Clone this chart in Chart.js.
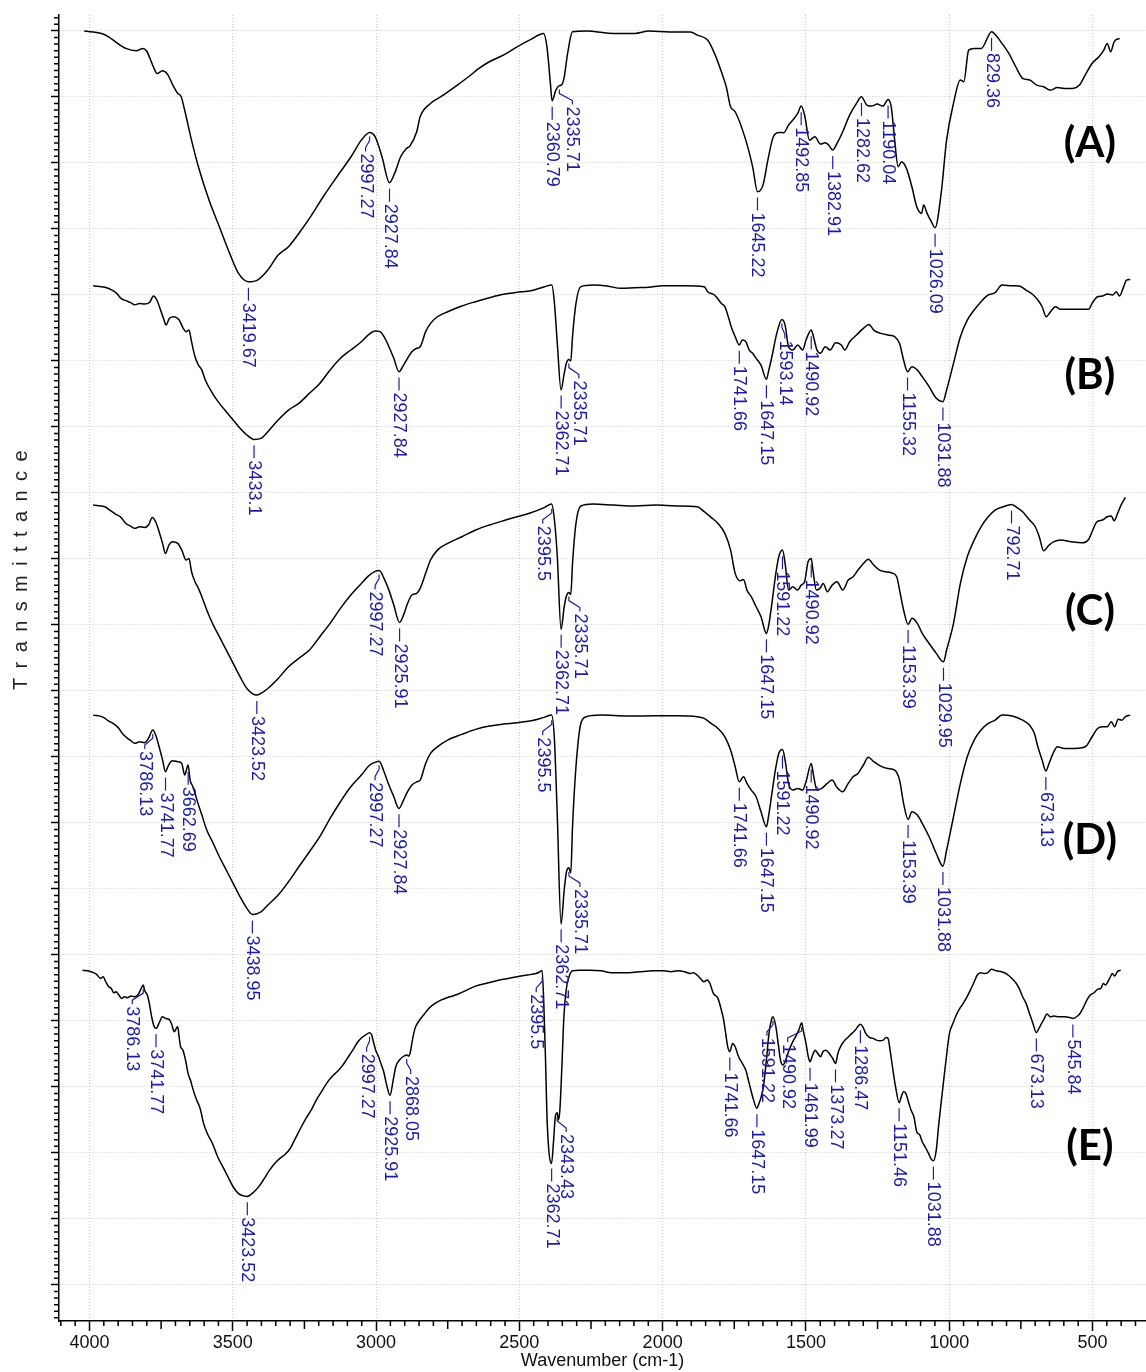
<!DOCTYPE html>
<html>
<head>
<meta charset="utf-8">
<title>FTIR spectra A-E</title>
<script src="https://cdn.jsdelivr.net/npm/chart.js@4.4.0/dist/chart.umd.min.js"></script>
<style>
  html, body { margin: 0; padding: 0; background: #fff; }
  #wrap { width: 1146px; height: 1372px; }
</style>
</head>
<body>
<div id="wrap"><canvas id="chart-ftir" width="1146" height="1372"></canvas></div>
<script>
// traces are stacked: [wavenumber cm-1, transmittance in offset units]
const spectrumA = [
  [3992, 94.98], [3932, 94.80], [3907, 94.55], [3883, 94.17], [3847, 93.67], [3811, 93.49], [3787, 93.67], [3775, 93.49],
  [3751, 92.28], [3738, 91.77], [3719, 91.98], [3702, 91.72], [3683, 90.89], [3666, 90.26], [3654, 90.01], [3642, 89.00],
  [3618, 86.72], [3594, 84.70], [3557, 82.18], [3521, 80.16], [3485, 78.14], [3454, 76.62], [3420, 75.99], [3388, 76.12],
  [3352, 76.88], [3316, 78.01], [3280, 78.64], [3244, 79.65], [3207, 80.79], [3159, 82.43], [3111, 83.95], [3062, 85.46],
  [3026, 86.72], [2997, 87.30], [2978, 86.98], [2954, 85.46], [2928, 83.49], [2910, 84.20], [2889, 85.46], [2869, 86.09],
  [2857, 86.27], [2833, 87.36], [2821, 88.49], [2785, 89.50], [2749, 90.01], [2700, 90.76], [2652, 91.52], [2616, 92.15],
  [2580, 92.66], [2531, 93.16], [2483, 93.79], [2435, 94.35], [2391, 94.80], [2379, 93.79], [2367, 91.02], [2361, 89.70],
  [2348, 90.51], [2336, 90.85], [2328, 90.90], [2319, 91.47], [2307, 93.29], [2290, 94.93], [2242, 94.98], [2145, 94.80],
  [2073, 94.80], [2024, 94.98], [1952, 94.91], [1879, 94.91], [1855, 94.68], [1819, 94.30], [1795, 93.29], [1771, 91.90],
  [1754, 90.76], [1739, 89.25], [1723, 88.87], [1686, 86.72], [1662, 84.70], [1645, 82.81], [1626, 83.31], [1609, 85.21],
  [1590, 86.98], [1570, 87.30], [1554, 87.28], [1537, 87.86], [1522, 88.24], [1505, 88.74], [1493, 89.30], [1481, 88.62],
  [1464, 86.72], [1445, 86.98], [1426, 86.42], [1409, 86.52], [1397, 86.35], [1383, 85.97], [1368, 86.47], [1348, 87.36],
  [1324, 88.62], [1300, 89.50], [1283, 90.01], [1264, 89.38], [1247, 89.30], [1228, 89.45], [1208, 89.30], [1190, 89.80],
  [1179, 89.25], [1167, 86.72], [1155, 84.70], [1143, 85.08], [1126, 84.58], [1107, 83.19], [1090, 81.67], [1073, 81.17],
  [1066, 81.80], [1054, 81.17], [1039, 80.54], [1026, 80.08], [1005, 82.68], [986, 86.72], [962, 89.50], [938, 91.27],
  [926, 91.14], [909, 93.54], [890, 93.67], [865, 93.67], [829, 94.93], [812, 94.60], [793, 94.05], [769, 93.29],
  [745, 92.28], [721, 91.40], [696, 91.27], [672, 90.89], [648, 90.76], [624, 90.51], [600, 90.71], [576, 90.64],
  [547, 90.64], [523, 90.89], [503, 91.65], [479, 92.53], [455, 93.04], [438, 93.54], [426, 94.05], [414, 93.42],
  [402, 94.17], [383, 94.43]
];

const spectrumB = [
  [3994, 75.69], [3953, 75.57], [3928, 75.36], [3912, 75.11], [3897, 74.73], [3880, 74.56], [3863, 74.41], [3849, 74.25],
  [3832, 74.35], [3815, 74.30], [3796, 74.46], [3784, 74.91], [3772, 74.61], [3759, 73.85], [3747, 73.09], [3740, 72.71],
  [3728, 73.22], [3711, 73.34], [3694, 73.09], [3680, 72.46], [3670, 72.21], [3660, 72.33], [3651, 71.45], [3639, 70.31],
  [3627, 69.68], [3615, 69.30], [3603, 68.55], [3578, 67.54], [3554, 66.78], [3530, 66.15], [3506, 65.52], [3482, 64.89],
  [3458, 64.38], [3433, 64.05], [3409, 64.13], [3385, 64.63], [3349, 65.52], [3313, 66.27], [3277, 66.78], [3240, 67.54],
  [3204, 68.29], [3168, 69.30], [3132, 70.19], [3096, 70.82], [3059, 71.45], [3035, 71.96], [3011, 72.26], [2994, 72.21],
  [2980, 71.83], [2963, 71.07], [2946, 70.19], [2928, 69.18], [2912, 69.68], [2898, 70.19], [2883, 70.69], [2866, 70.95],
  [2854, 71.07], [2835, 72.21], [2818, 72.84], [2794, 73.34], [2758, 73.72], [2709, 74.15], [2661, 74.48], [2613, 74.78],
  [2564, 75.04], [2516, 75.19], [2468, 75.31], [2420, 75.62], [2395, 75.74], [2386, 74.35], [2376, 71.32], [2363, 67.79],
  [2352, 69.05], [2344, 69.85], [2336, 70.10], [2329, 70.00], [2323, 71.83], [2311, 74.35], [2294, 75.62], [2251, 75.74],
  [2202, 75.67], [2154, 75.49], [2106, 75.54], [2057, 75.57], [2009, 75.69], [1937, 75.69], [1864, 75.62], [1852, 75.24],
  [1828, 74.99], [1804, 74.35], [1792, 74.10], [1780, 73.34], [1768, 72.46], [1756, 71.83], [1742, 71.20], [1731, 71.58],
  [1719, 71.45], [1707, 70.82], [1695, 70.57], [1683, 70.19], [1666, 69.68], [1647, 68.60], [1640, 69.18], [1628, 70.31],
  [1611, 72.08], [1593, 73.14], [1582, 72.71], [1570, 71.07], [1555, 70.82], [1538, 71.20], [1521, 70.82], [1509, 71.58],
  [1491, 72.33], [1483, 71.83], [1471, 70.82], [1459, 70.57], [1442, 71.07], [1425, 70.82], [1406, 71.37], [1386, 71.20],
  [1374, 70.82], [1357, 71.45], [1333, 71.96], [1309, 72.46], [1290, 72.76], [1273, 72.33], [1249, 72.08], [1224, 71.96],
  [1200, 71.83], [1183, 71.32], [1169, 70.06], [1155, 69.18], [1140, 69.56], [1121, 69.30], [1104, 68.80], [1080, 68.04],
  [1055, 67.16], [1032, 66.91], [1019, 67.79], [995, 69.81], [971, 71.83], [947, 73.09], [923, 73.85], [899, 74.48],
  [874, 74.99], [850, 75.16], [826, 75.74], [790, 75.69], [766, 75.67], [742, 75.36], [717, 74.99], [701, 74.61],
  [686, 74.10], [672, 73.34], [657, 73.72], [640, 74.10], [621, 73.90], [585, 73.90], [548, 73.90], [524, 73.90],
  [512, 74.35], [493, 74.86], [476, 74.91], [459, 75.06], [440, 74.99], [428, 75.24], [416, 74.91], [404, 75.49],
  [392, 76.12], [379, 76.17]
];

const spectrumC = [
  [3994, 59.07], [3953, 58.95], [3936, 58.69], [3916, 58.39], [3897, 58.14], [3880, 57.68], [3863, 57.48], [3849, 57.31],
  [3832, 57.43], [3815, 57.38], [3801, 57.56], [3788, 58.14], [3776, 57.81], [3764, 57.05], [3752, 56.17], [3742, 55.41],
  [3730, 56.04], [3718, 56.30], [3699, 56.17], [3685, 55.66], [3670, 54.91], [3660, 55.03], [3651, 54.02], [3639, 53.27],
  [3627, 52.76], [3615, 52.13], [3598, 51.12], [3578, 50.11], [3554, 49.10], [3530, 48.09], [3506, 47.08], [3482, 46.07],
  [3458, 45.18], [3424, 44.68], [3409, 44.81], [3385, 45.18], [3349, 45.94], [3313, 46.83], [3277, 47.46], [3240, 48.09],
  [3204, 49.10], [3168, 50.11], [3132, 51.25], [3096, 52.26], [3059, 53.14], [3035, 53.69], [3011, 54.05], [2997, 54.12],
  [2980, 53.52], [2963, 52.63], [2946, 51.50], [2926, 50.18], [2912, 50.74], [2898, 51.62], [2883, 52.26], [2866, 52.38],
  [2854, 52.76], [2835, 53.90], [2818, 54.91], [2794, 55.66], [2758, 56.17], [2709, 56.67], [2661, 57.18], [2613, 57.56],
  [2564, 57.89], [2516, 58.19], [2468, 58.49], [2420, 58.90], [2396, 59.15], [2386, 57.94], [2376, 55.16], [2363, 49.65],
  [2352, 51.37], [2344, 52.20], [2336, 52.45], [2329, 52.30], [2323, 54.65], [2311, 57.68], [2294, 59.00], [2251, 59.15],
  [2178, 59.07], [2106, 59.00], [2033, 59.07], [1961, 59.00], [1888, 58.95], [1864, 58.57], [1840, 58.14], [1816, 57.68],
  [1792, 56.93], [1772, 55.66], [1756, 53.90], [1739, 53.34], [1727, 53.44], [1715, 52.63], [1700, 52.13], [1683, 51.37],
  [1666, 50.61], [1647, 49.35], [1640, 49.86], [1628, 51.62], [1616, 53.64], [1604, 55.16], [1591, 55.66], [1582, 54.65],
  [1570, 52.63], [1555, 52.89], [1538, 52.63], [1526, 53.01], [1514, 53.27], [1502, 54.78], [1491, 55.03], [1485, 54.15],
  [1473, 52.63], [1461, 52.76], [1449, 53.14], [1435, 52.51], [1418, 53.01], [1401, 53.27], [1381, 52.63], [1362, 53.39],
  [1345, 53.64], [1328, 54.15], [1309, 54.65], [1292, 54.96], [1273, 54.53], [1253, 54.15], [1232, 54.02], [1212, 53.95],
  [1193, 53.64], [1183, 52.63], [1169, 51.12], [1153, 50.03], [1140, 50.49], [1121, 50.11], [1104, 49.35], [1080, 48.59],
  [1055, 47.84], [1030, 47.20], [1019, 48.09], [995, 50.11], [971, 53.14], [947, 55.16], [923, 56.42], [899, 57.43],
  [874, 58.19], [850, 58.69], [821, 58.95], [793, 59.12], [778, 58.95], [754, 58.57], [730, 57.94], [710, 57.43],
  [696, 56.67], [681, 55.61], [662, 56.04], [645, 56.30], [621, 56.42], [585, 56.30], [548, 56.22], [524, 56.47],
  [512, 57.05], [495, 57.81], [476, 57.94], [459, 58.19], [445, 58.24], [435, 57.89], [423, 58.44], [411, 59.07],
  [396, 59.65]
];

const spectrumD = [
  [3994, 43.16], [3960, 43.01], [3941, 42.73], [3921, 42.48], [3904, 42.15], [3892, 41.77], [3878, 41.47], [3863, 41.22],
  [3849, 41.02], [3832, 41.14], [3815, 41.07], [3801, 41.40], [3786, 42.03], [3776, 41.65], [3764, 40.76], [3752, 39.75],
  [3742, 38.87], [3731, 39.38], [3718, 39.70], [3699, 39.63], [3685, 39.50], [3675, 38.62], [3663, 39.38], [3656, 38.24],
  [3646, 37.73], [3632, 36.72], [3615, 35.59], [3598, 34.45], [3578, 33.57], [3554, 32.43], [3530, 31.42], [3506, 30.41],
  [3482, 29.40], [3458, 28.52], [3439, 28.06], [3409, 28.26], [3385, 28.77], [3349, 29.53], [3313, 30.54], [3277, 31.67],
  [3240, 32.81], [3204, 33.95], [3168, 35.34], [3132, 36.60], [3096, 37.73], [3059, 38.62], [3030, 39.38], [3006, 39.63],
  [2997, 39.66], [2980, 38.87], [2963, 37.86], [2946, 36.98], [2928, 36.09], [2912, 36.72], [2898, 37.36], [2883, 37.86],
  [2866, 38.11], [2854, 38.24], [2835, 39.50], [2818, 40.26], [2794, 40.76], [2758, 41.27], [2709, 41.70], [2661, 42.08],
  [2613, 42.33], [2564, 42.48], [2516, 42.58], [2468, 42.73], [2420, 43.01], [2396, 43.16], [2386, 41.27], [2376, 35.46],
  [2363, 27.33], [2352, 29.91], [2344, 31.30], [2336, 31.60], [2329, 31.20], [2323, 34.70], [2311, 39.25], [2294, 42.53],
  [2275, 43.04], [2226, 43.16], [2130, 43.09], [2033, 43.11], [1961, 43.11], [1888, 43.04], [1864, 42.91], [1840, 42.53],
  [1816, 42.15], [1792, 41.52], [1772, 40.51], [1756, 39.25], [1742, 38.11], [1727, 38.49], [1715, 37.99], [1700, 37.48],
  [1683, 36.98], [1666, 35.84], [1647, 34.70], [1640, 35.46], [1628, 37.23], [1616, 38.99], [1604, 40.26], [1591, 40.56],
  [1582, 39.75], [1570, 37.99], [1555, 37.48], [1538, 37.61], [1521, 37.48], [1509, 38.11], [1491, 39.50], [1483, 38.62],
  [1471, 37.48], [1454, 37.61], [1435, 37.99], [1418, 38.24], [1401, 37.68], [1381, 37.36], [1362, 37.99], [1345, 38.49],
  [1328, 38.74], [1309, 39.38], [1292, 39.96], [1273, 39.63], [1249, 39.30], [1224, 39.12], [1200, 38.99], [1183, 38.24],
  [1169, 36.47], [1153, 35.26], [1140, 35.84], [1121, 35.59], [1104, 34.96], [1080, 33.95], [1055, 32.68], [1032, 31.72],
  [1019, 32.94], [995, 35.46], [971, 37.99], [947, 40.01], [923, 41.27], [899, 42.03], [874, 42.53], [850, 42.78],
  [826, 43.16], [790, 43.09], [754, 42.78], [730, 42.41], [713, 41.77], [701, 40.76], [686, 39.75], [673, 38.92],
  [662, 39.50], [645, 40.39], [633, 40.76], [609, 40.64], [573, 40.64], [536, 40.76], [512, 41.52], [493, 42.15],
  [476, 42.28], [459, 42.28], [445, 42.66], [433, 42.28], [421, 42.84], [408, 42.78], [396, 43.04], [379, 43.16]
];

const spectrumE = [
  [3998, 23.84], [3968, 23.72], [3950, 23.54], [3934, 23.21], [3926, 23.34], [3917, 22.96], [3907, 22.58], [3898, 22.46],
  [3889, 22.13], [3881, 22.20], [3871, 21.95], [3862, 21.70], [3852, 21.82], [3841, 21.75], [3829, 21.88], [3817, 21.82],
  [3805, 21.95], [3796, 22.33], [3786, 22.71], [3782, 22.33], [3772, 21.95], [3765, 21.32], [3757, 20.31], [3748, 19.55],
  [3742, 19.43], [3729, 19.93], [3720, 20.31], [3708, 20.18], [3696, 20.11], [3688, 19.80], [3678, 19.17], [3671, 19.43],
  [3666, 19.55], [3662, 18.92], [3656, 18.04], [3648, 17.78], [3639, 17.03], [3630, 16.02], [3620, 15.39], [3612, 14.75],
  [3600, 14.00], [3588, 13.37], [3576, 12.23], [3563, 11.47], [3545, 10.71], [3527, 9.70], [3509, 8.95], [3491, 8.19],
  [3473, 7.43], [3455, 6.93], [3437, 6.74], [3424, 6.70], [3400, 7.05], [3382, 7.48], [3364, 8.06], [3346, 8.69],
  [3328, 9.20], [3310, 9.58], [3292, 9.88], [3274, 10.33], [3256, 11.09], [3238, 11.85], [3219, 12.61], [3201, 13.24],
  [3183, 14.00], [3165, 14.63], [3147, 15.26], [3129, 15.76], [3111, 16.14], [3093, 16.57], [3075, 17.15], [3056, 17.78],
  [3038, 18.42], [3024, 18.74], [3012, 18.92], [2997, 19.10], [2990, 18.92], [2984, 18.42], [2976, 17.78], [2966, 17.28],
  [2956, 16.65], [2948, 16.14], [2939, 15.26], [2926, 14.36], [2915, 15.51], [2906, 16.52], [2893, 17.03], [2881, 17.28],
  [2868, 17.41], [2860, 17.33], [2855, 17.66], [2848, 18.54], [2839, 19.43], [2827, 19.93], [2809, 20.44], [2791, 20.94],
  [2773, 21.27], [2749, 21.57], [2718, 21.82], [2688, 22.03], [2658, 22.33], [2628, 22.63], [2592, 22.83], [2555, 23.04],
  [2519, 23.19], [2483, 23.34], [2447, 23.47], [2417, 23.59], [2405, 23.70], [2396, 23.82], [2390, 21.32], [2384, 17.03],
  [2378, 12.23], [2363, 9.20], [2356, 10.90], [2350, 12.73], [2343, 13.04], [2339, 12.48], [2334, 13.24], [2327, 16.52],
  [2320, 20.31], [2312, 22.33], [2302, 23.34], [2290, 23.79], [2266, 23.84], [2230, 23.84], [2190, 23.79], [2154, 23.64],
  [2105, 23.64], [2057, 23.72], [2008, 23.79], [1972, 23.79], [1947, 23.72], [1923, 23.79], [1899, 23.72], [1881, 23.59],
  [1868, 23.64], [1856, 23.47], [1844, 23.21], [1832, 22.96], [1820, 23.09], [1811, 22.83], [1799, 22.08], [1783, 21.70],
  [1771, 20.81], [1763, 20.06], [1756, 19.05], [1749, 18.04], [1742, 17.66], [1732, 18.29], [1723, 18.04], [1711, 17.28],
  [1698, 16.77], [1686, 16.27], [1674, 15.26], [1662, 14.25], [1647, 13.37], [1640, 13.74], [1632, 14.25], [1623, 15.26],
  [1613, 17.28], [1605, 19.05], [1595, 20.18], [1591, 20.31], [1581, 19.55], [1573, 18.29], [1565, 17.03], [1556, 16.65],
  [1547, 17.03], [1535, 17.78], [1525, 18.29], [1513, 18.79], [1501, 19.30], [1491, 19.85], [1486, 19.30], [1476, 18.29],
  [1468, 17.28], [1462, 16.90], [1453, 17.41], [1444, 17.78], [1435, 17.53], [1425, 17.28], [1417, 17.66], [1407, 17.78],
  [1395, 17.53], [1383, 17.15], [1373, 16.77], [1365, 17.53], [1353, 18.16], [1340, 18.54], [1328, 18.79], [1316, 19.05],
  [1304, 19.30], [1294, 19.60], [1286, 19.75], [1277, 19.50], [1268, 19.05], [1255, 18.74], [1243, 18.67], [1231, 18.54],
  [1219, 18.49], [1207, 18.54], [1197, 18.74], [1190, 18.67], [1183, 17.78], [1173, 16.27], [1164, 15.01], [1151, 13.79],
  [1144, 14.25], [1136, 14.63], [1128, 14.50], [1119, 13.87], [1110, 13.24], [1100, 12.73], [1090, 11.60], [1079, 11.34],
  [1071, 10.84], [1061, 10.46], [1049, 9.96], [1039, 9.50], [1032, 9.40], [1022, 10.21], [1013, 12.23], [1000, 14.75],
  [988, 17.03], [976, 19.05], [964, 19.80], [952, 20.44], [940, 20.94], [928, 21.32], [915, 21.82], [903, 22.33],
  [891, 22.89], [879, 23.47], [867, 23.64], [855, 23.59], [843, 23.64], [830, 23.90], [812, 23.79], [794, 23.72],
  [776, 23.54], [758, 23.21], [743, 22.83], [733, 22.46], [721, 21.82], [709, 21.32], [697, 20.56], [685, 19.80],
  [673, 19.10], [667, 19.30], [658, 19.68], [648, 20.06], [636, 20.51], [624, 20.31], [612, 20.36], [594, 20.31],
  [576, 20.31], [557, 20.26], [546, 20.18], [533, 20.31], [521, 20.56], [509, 21.02], [497, 21.57], [485, 21.95],
  [472, 22.13], [460, 22.38], [448, 22.46], [440, 22.83], [432, 22.71], [424, 22.96], [415, 23.34], [408, 23.59],
  [400, 23.39], [391, 23.72], [379, 23.84]
];

// marked band positions (cm-1) per trace
const peaksA = [3419.67, 2997.27, 2927.84, 2360.79, 2335.71, 1645.22, 1492.85, 1382.91, 1282.62, 1190.04, 1026.09, 829.36];
const peaksB = [3433.1, 2927.84, 2362.71, 2335.71, 1741.66, 1647.15, 1593.14, 1490.92, 1155.32, 1031.88];
const peaksC = [3423.52, 2997.27, 2925.91, 2395.5, 2362.71, 2335.71, 1647.15, 1591.22, 1490.92, 1153.39, 1029.95, 792.71];
const peaksD = [3786.13, 3741.77, 3662.69, 3438.95, 2997.27, 2927.84, 2395.5, 2362.71, 2335.71, 1741.66, 1647.15,
  1591.22, 1490.92, 1153.39, 1031.88, 673.13];
const peaksE = [3786.13, 3741.77, 3423.52, 2997.27, 2925.91, 2868.05, 2395.5, 2362.71, 2343.43, 1741.66, 1647.15,
  1591.22, 1490.92, 1461.99, 1373.27, 1286.47, 1151.46, 1031.88, 673.13, 545.84];

const traceNames = ['(A)', '(B)', '(C)', '(D)', '(E)'];
const xTickValues = [4000, 3500, 3000, 2500, 2000, 1500, 1000, 500];

// ---- layout / styling (kept apart from the values) ----
const spectra = [spectrumA, spectrumB, spectrumC, spectrumD, spectrumE];
const peaks = [peaksA, peaksB, peaksC, peaksD, peaksE];
// the traces come from overlaid plots whose own axes are slightly shifted
const traceAxis = ['xTraceAE', 'xTraceBCD', 'xTraceBCD', 'xTraceBCD', 'xTraceAE'];
const nameLevel = [86.5, 68.9, 51.0, 33.7, 10.5];   // y value of the (A)..(E) tags
const nameWavenumber = 509;
// sideways shift (px) of crowded labels, by trace
const labelNudge = [
  { '2997.27': -4, '2335.71': 13 },
  { '2335.71': 10, '1593.14': 3 },
  { '2997.27': -4, '2395.5': -9, '2335.71': 11 },
  { '3786.13': -8, '2997.27': -4, '2395.5': -9, '2335.71': 11 },
  { '3786.13': -11, '2997.27': -3, '2868.05': 4, '2395.5': -6, '2343.43': 9, '1591.22': -6, '1490.92': -14 }
];
const FONT = '"Liberation Sans", Arial, Helvetica, sans-serif';
const LABEL_BLUE = '#1e1e9c';

function valueAt(series, w) {
  for (let i = 0; i < series.length - 1; i++) {
    const w0 = series[i][0], v0 = series[i][1];
    const w1 = series[i + 1][0], v1 = series[i + 1][1];
    if (w <= w0 && w >= w1) return v0 + (v1 - v0) * (w - w0) / (w1 - w0);
  }
  return series[series.length - 1][1];
}

// short minor ticks on both axes
const minorTicks = {
  id: 'minorTicks',
  afterDraw(chart) {
    const { ctx, chartArea } = chart;
    const x = chart.scales.x, y = chart.scales.y;
    ctx.save();
    ctx.strokeStyle = '#000';
    ctx.lineWidth = 1.5;
    ctx.beginPath();
    for (let w = 350; w <= 4100; w += 50) {
      if (w % 500 === 0) continue;
      const len = w % 250 === 0 ? 8 : 5;
      const px = x.getPixelForValue(w);
      ctx.moveTo(px, chartArea.bottom);
      ctx.lineTo(px, chartArea.bottom + len);
    }
    for (let k = -5; k <= 192; k++) {
      if (k % 10 === 0) continue;
      const py = y.getPixelForValue(k * 0.5);
      ctx.moveTo(chartArea.left - 5, py);
      ctx.lineTo(chartArea.left, py);
    }
    ctx.stroke();

    // spaced-out y title
    ctx.font = '20px ' + FONT;
    ctx.fillStyle = '#222';
    ctx.textBaseline = 'middle';
    ctx.textAlign = 'left';
    ctx.translate(21, 690);
    ctx.rotate(-Math.PI / 2);
    let pos = 0;
    for (const ch of 'Transmittance') {
      ctx.fillText(ch, pos, 0);
      pos += ctx.measureText(ch).width + 9.4;
    }
    ctx.restore();
  }
};

// vertical peak labels and the trace tags
const peakLabels = {
  id: 'peakLabels',
  afterDatasetsDraw(chart) {
    const { ctx } = chart;
    const y = chart.scales.y;
    ctx.save();
    ctx.strokeStyle = LABEL_BLUE;
    ctx.fillStyle = LABEL_BLUE;
    ctx.lineWidth = 1.2;
    ctx.font = '18px ' + FONT;
    ctx.textBaseline = 'middle';
    ctx.textAlign = 'left';
    peaks.forEach((list, i) => {
      const xs = chart.scales[traceAxis[i]];
      list.forEach(w => {
        const px = xs.getPixelForValue(w);
        const py = y.getPixelForValue(valueAt(spectra[i], w));
        const dx = labelNudge[i][String(w)] || 0;
        const lx = px + dx;
        ctx.beginPath();
        if (dx) {
          ctx.moveTo(px, py + 4);
          ctx.lineTo(px, py + 8);
          ctx.lineTo(lx, py + 15);
          ctx.lineTo(lx, py + 19);
        } else {
          ctx.moveTo(lx, py + 6);
          ctx.lineTo(lx, py + 19);
        }
        ctx.stroke();
        ctx.save();
        ctx.translate(lx, py + 21);
        ctx.rotate(Math.PI / 2);
        ctx.fillText(String(w), 0, 0);
        ctx.restore();
      });
    });

    ctx.fillStyle = '#000';
    ctx.font = 'bold 42px Lato, "Open Sans", sans-serif';
    ctx.textAlign = 'center';
    traceNames.forEach((name, i) => {
      ctx.fillText(name, chart.scales.x.getPixelForValue(nameWavenumber), y.getPixelForValue(nameLevel[i]));
    });
    ctx.restore();
  }
};

const ctx = document.getElementById('chart-ftir').getContext('2d');

const hiddenAxis = (min, max) => ({
  type: 'linear', display: false, reverse: true, min: min, max: max
});

const ftirChart = new Chart(ctx, {
  type: 'scatter',
  data: {
    datasets: spectra.map((s, i) => ({
      label: traceNames[i],
      data: s.slice().sort((a, b) => b[0] - a[0]).map(p => ({ x: p[0], y: p[1] })),
      xAxisID: traceAxis[i],
      yAxisID: 'y',
      showLine: true,
      borderColor: '#000',
      borderWidth: 1.5,
      pointRadius: 0,
      cubicInterpolationMode: 'monotone',
      fill: false
    }))
  },
  options: {
    responsive: false,
    animation: false,
    devicePixelRatio: 1,
    layout: { padding: { top: 15, left: 0, right: 0, bottom: 0 } },
    plugins: { legend: { display: false }, tooltip: { enabled: false } },
    scales: {
      x: {
        type: 'linear',
        position: 'bottom',
        reverse: true,
        min: 313.3,
        max: 4106.4,
        afterBuildTicks: axis => { axis.ticks = xTickValues.map(v => ({ value: v })); },
        afterFit: axis => { axis.height = 51; },
        ticks: {
          font: { family: FONT, size: 18 },
          color: '#111',
          padding: 1,
          maxRotation: 0,
          autoSkip: false,
          callback: v => String(v)
        },
        grid: { color: '#c8c8c8', lineWidth: 1, tickLength: 10, tickColor: '#000', tickWidth: 1.5 },
        border: { color: '#000', width: 1.5, dash: [1, 2] },
        title: {
          display: true,
          text: 'Wavenumber (cm-1)',
          font: { family: FONT, size: 18 },
          color: '#111',
          padding: { top: 0, bottom: 0 }
        }
      },
      y: {
        type: 'linear',
        position: 'left',
        min: -2.74,
        max: 96.2,
        ticks: { display: false, stepSize: 5, includeBounds: false },
        afterFit: axis => { axis.width = 59; },
        grid: { color: '#c8c8c8', lineWidth: 1, tickLength: 8, tickColor: '#000', tickWidth: 1.5 },
        border: { color: '#000', width: 1.5, dash: [1, 2] }
      },
      xTraceAE: hiddenAxis(290.9, 4079.9),
      xTraceBCD: hiddenAxis(324.0, 4113.0)
    }
  },
  plugins: [minorTicks, peakLabels]
});
</script>
</body>
</html>
